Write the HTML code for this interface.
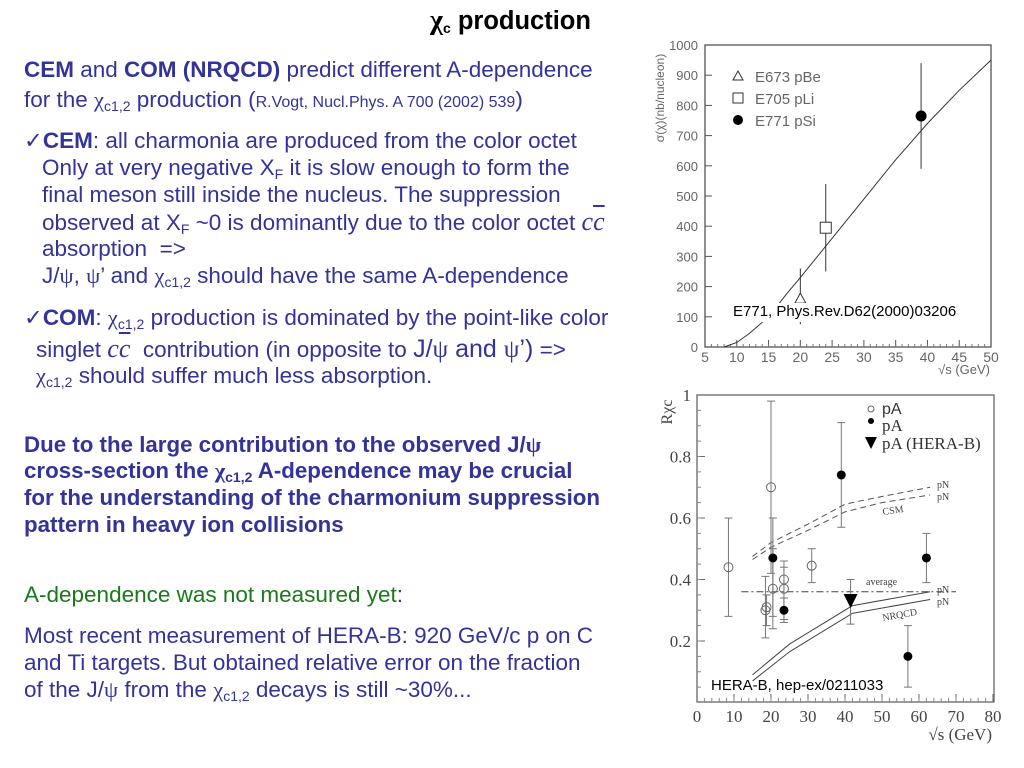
<!DOCTYPE html>
<html><head><meta charset="utf-8">
<style>
html,body{margin:0;padding:0;background:#fff;}
#page{position:relative;width:1024px;height:768px;overflow:hidden;background:#fff;font-family:"Liberation Sans",Arial,sans-serif;}
.ln{position:absolute;white-space:nowrap;font-size:22.5px;line-height:24px;color:#333399;}
.ln.b{font-size:22.3px;}
.g{color:#1a7a1a;}
.b{font-weight:bold;}
sub{font-size:14px;vertical-align:-4px;line-height:0;}
.gr{font-family:"Liberation Serif",serif;}
.cc{font-family:"Liberation Serif",serif;font-style:italic;font-size:26px;}
svg{position:absolute;left:0;top:0;}
</style></head><body>
<div id="page">
<div class="ln b" style="left:430px;top:9px;font-size:25.5px;color:#000;"><span class="gr" style="font-size:28px">χ</span><sub>c</sub> production</div>

<div class="ln" style="left:24px;top:58px;"><b>CEM</b> and <b>COM (NRQCD)</b> predict different A-dependence</div>
<div class="ln" style="left:24px;top:88px;">for the <span class="gr">χ</span><sub>c1,2</sub> production (<span style="font-size:16px">R.Vogt, Nucl.Phys. A 700 (2002) 539</span>)</div>

<div class="ln" style="left:24px;top:129px;">✓<b>CEM</b>: all charmonia are produced from the color octet</div>
<div class="ln" style="left:42px;top:156px;">Only at very negative X<sub>F</sub> it is slow enough to form the</div>
<div class="ln" style="left:42px;top:183px;">final meson still inside the nucleus. The suppression</div>
<div class="ln" style="left:42px;top:210px;">observed at X<sub>F</sub> ~0 is dominantly due to the color octet <span class="cc">c<span style="text-decoration:overline">c</span></span></div>
<div class="ln" style="left:42px;top:237px;">absorption&nbsp; =&gt;</div>
<div class="ln" style="left:42px;top:264px;">J/<span class="gr">ψ</span>, <span class="gr">ψ</span>’ and <span class="gr">χ</span><sub>c1,2</sub> should have the same A-dependence</div>

<div class="ln" style="left:24px;top:306px;">✓<b>COM</b>: <span class="gr">χ</span><sub>c1,2</sub> production is dominated by the point-like color</div>
<div class="ln" style="left:36px;top:337px;">singlet <span class="cc">c<span style="text-decoration:overline">c</span></span>&nbsp; contribution (in opposite to <span style="font-size:25px">J/<span class="gr">ψ</span> and <span class="gr">ψ</span>’)</span> =&gt;</div>
<div class="ln" style="left:36px;top:364px;"><span class="gr">χ</span><sub>c1,2</sub> should suffer much less absorption.</div>

<div class="ln b" style="left:24px;top:433px;">Due to the large contribution to the observed J/<span class="gr">ψ</span></div>
<div class="ln b" style="left:24px;top:459px;">cross-section the <span class="gr">χ</span><sub>c1,2</sub> A-dependence may be crucial</div>
<div class="ln b" style="left:24px;top:486px;">for the understanding of the charmonium suppression</div>
<div class="ln b" style="left:24px;top:513px;">pattern in heavy ion collisions</div>

<div class="ln g" style="left:24px;top:583px;">A-dependence was not measured yet<span style="color:#333399">:</span></div>
<div class="ln" style="left:24px;top:624px;">Most recent measurement of HERA-B: 920 GeV/c p on C</div>
<div class="ln" style="left:24px;top:651px;">and Ti targets. But obtained relative error on the fraction</div>
<div class="ln" style="left:24px;top:678px;">of the J/<span class="gr">ψ</span> from the <span class="gr">χ</span><sub>c1,2</sub> decays is still ~30%...</div>

<svg id="charts" width="1024" height="768"></svg>
</div>
<script>
// ---- Chart 1 data (E771) ----
const c1XTicks = [5,10,15,20,25,30,35,40,45,50];
const c1YTicks = [0,100,200,300,400,500,600,700,800,900,1000];
const c1CurveX = [8,10,12,15,18,20,25,30,35,40,45,50];
const c1CurveY = [0,15,45,100,180,230,360,490,620,740,850,950];
const c1PtX = [20,24,39];
const c1PtY = [160,395,765];
const c1PtLo = [75,250,590];
const c1PtHi = [260,540,940];
const c1PtShape = ['tri','sq','dot'];
const c1Legend = ['E673 pBe','E705 pLi','E771 pSi'];
// ---- Chart 2 data (HERA-B) ----
const c2XTicks = [0,10,20,30,40,50,60,70,80];
const c2YTicks = [0.2,0.4,0.6,0.8,1];
const c2OpenX = [8.5,18.5,18.8,20,20.5,23.5,23.5,31];
const c2OpenY = [0.44,0.30,0.31,0.70,0.37,0.40,0.37,0.445];
const c2OpenLo = [0.28,0.21,0.25,0.42,0.24,0.27,0.26,0.39];
const c2OpenHi = [0.60,0.41,0.35,0.98,0.50,0.46,0.44,0.50];
const c2FillX = [20.5,23.5,39,57,62];
const c2FillY = [0.47,0.30,0.74,0.15,0.47];
const c2FillLo = [0.28,0.27,0.57,0.05,0.39];
const c2FillHi = [0.60,0.34,0.91,0.25,0.55];
const c2TriX = [41.5];
const c2TriY = [0.33];
const c2TriLo = [0.255];
const c2TriHi = [0.40];
const csmX = [15,20,30,40,50,63];
const csmUpper = [0.475,0.52,0.58,0.645,0.67,0.70];
const csmLower = [0.465,0.505,0.56,0.62,0.65,0.675];
const nrX = [15,25,42,63];
const nrUpper = [0.09,0.19,0.315,0.36];
const nrLower = [0.07,0.165,0.29,0.335];
const avgX = [12,70];
const avgY = [0.36,0.36];

const NS='http://www.w3.org/2000/svg';
const svg=document.getElementById('charts');
function mk(tag,attrs,parent){const e=document.createElementNS(NS,tag);for(const k in attrs)e.setAttribute(k,attrs[k]);(parent||svg).appendChild(e);return e;}
function txt(s,attrs,parent){const e=mk('text',attrs,parent);e.textContent=s;return e;}

// Chart 1 axes
const x1=v=>705+(v-5)*(991-705)/45;
const y1=v=>347-v*(347-45)/1000;
const g1=mk('g',{});


const f1=mk('rect',{x:705,y:45,width:286,height:302,fill:'none',stroke:'#555','stroke-width':1.3},g1);


c1XTicks.forEach(t=>{
  mk('line',{x1:x1(t),x2:x1(t),y1:347,y2:340,stroke:'#555'},g1);
  const l=txt(String(t),{x:x1(t),y:362,'font-size':14,'text-anchor':'middle',fill:'#666','font-family':'Liberation Sans'},g1);
  
  
});
for(let v=6;v<50;v++){mk('line',{x1:x1(v),x2:x1(v),y1:347,y2:344,stroke:'#777'},g1);}
c1YTicks.forEach(t=>{
  mk('line',{x1:705,x2:712,y1:y1(t),y2:y1(t),stroke:'#555'},g1);
  const l=txt(String(t),{x:698,y:y1(t)+5,'font-size':13,'text-anchor':'end',fill:'#666','font-family':'Liberation Sans'},g1);
  
  
});
const xt1=txt('√s (GeV)',{x:990,y:374,'font-size':13,'text-anchor':'end',fill:'#666','font-family':'Liberation Sans'},g1);


const yt1=txt('σ(χ)(nb/nucleon)',{x:0,y:0,'font-size':12,'text-anchor':'middle',fill:'#666','font-family':'Liberation Sans',transform:'translate(664,98) rotate(-90)'},g1);


const cv=mk('polyline',{points:c1CurveX.map((v,i)=>x1(v)+','+y1(c1CurveY[i])).join(' '),fill:'none',stroke:'#333','stroke-width':1},g1);


function marker(shape,cx,cy,r,parent){
  if(shape==='tri') return mk('polygon',{points:`${cx},${cy-r} ${cx-r},${cy+r*0.8} ${cx+r},${cy+r*0.8}`,fill:'#fff',stroke:'#333','stroke-width':1},parent);
  if(shape==='sq') return mk('rect',{x:cx-r,y:cy-r,width:2*r,height:2*r,fill:'#fff',stroke:'#333','stroke-width':1},parent);
  if(shape==='dot') return mk('circle',{cx,cy,r,fill:'#000'},parent);
  if(shape==='open') return mk('circle',{cx,cy,r,fill:'none',stroke:'#666','stroke-width':1},parent);
  if(shape==='dtri') return mk('polygon',{points:`${cx-r},${cy-r} ${cx+r},${cy-r} ${cx},${cy+r}`,fill:'#000'},parent);
}
c1PtX.forEach((v,i)=>{
  const e=mk('line',{x1:x1(v),x2:x1(v),y1:y1(c1PtLo[i]),y2:y1(c1PtHi[i]),stroke:'#333','stroke-width':1},g1);
  
  
  const m=marker(c1PtShape[i],x1(v),y1(c1PtY[i]),5.5,g1);
  
  
});
c1Legend.forEach((s,i)=>{
  const y=76+i*22;
  marker(c1PtShape[i],738,y,5,g1);
  const l=txt(s,{x:755,y:y+6,'font-size':15,fill:'#666','font-family':'Liberation Sans'},g1);
  
  
});
mk('rect',{x:731,y:303,width:256,height:19,fill:'#fff'},g1);
const ref1=txt('E771, Phys.Rev.D62(2000)03206',{x:733,y:316,'font-size':15,fill:'#000','font-family':'Liberation Sans'},g1);



// Chart 2 axes
const x2=v=>697+v*(993-697)/80;
const y2=v=>641-(v-0.2)*(641-395)/0.8;
const g2=mk('g',{});


const f2=mk('rect',{x:697,y:395,width:297,height:307,fill:'none',stroke:'#666','stroke-width':1.3},g2);


c2XTicks.forEach(t=>{
  mk('line',{x1:x2(t),x2:x2(t),y1:702,y2:694,stroke:'#666'},g2);
  const l=txt(String(t),{x:x2(t),y:722,'font-size':17,'text-anchor':'middle',fill:'#444','font-family':'Liberation Serif'},g2);
  
  
});
for(let v=2;v<80;v+=2){mk('line',{x1:x2(v),x2:x2(v),y1:702,y2:698,stroke:'#888'},g2);}
c2YTicks.forEach(t=>{
  mk('line',{x1:697,x2:705,y1:y2(t),y2:y2(t),stroke:'#666'},g2);
  const l=txt(t===1?'1':t.toFixed(1),{x:691,y:y2(t)+6,'font-size':17,'text-anchor':'end',fill:'#444','font-family':'Liberation Serif'},g2);
  
  
});
for(let v=0.05;v<1;v+=0.05){mk('line',{x1:697,x2:701,y1:y2(v),y2:y2(v),stroke:'#888'},g2);}
const xt2=txt('√s (GeV)',{x:992,y:740,'font-size':17,'text-anchor':'end',fill:'#444','font-family':'Liberation Serif'},g2);


const yt2=txt('Rχc',{x:0,y:0,'font-size':16,'text-anchor':'middle',fill:'#444','font-family':'Liberation Serif',transform:'translate(672,412) rotate(-90)'},g2);


function pl(xs,ys,attrs,name){const e=mk('polyline',Object.assign({points:xs.map((v,i)=>x2(v)+','+y2(ys[i])).join(' '),fill:'none'},attrs),g2);}
pl(csmX,csmUpper,{stroke:'#555','stroke-dasharray':'6,4','stroke-width':1},'csm-upper-curve');
pl(csmX,csmLower,{stroke:'#555','stroke-dasharray':'6,4','stroke-width':1},'csm-lower-curve');
pl(nrX,nrUpper,{stroke:'#444','stroke-width':1},'nrqcd-upper-curve');
pl(nrX,nrLower,{stroke:'#444','stroke-width':1},'nrqcd-lower-curve');
pl(avgX,avgY,{stroke:'#444','stroke-dasharray':'7,3,2,3','stroke-width':1},'average-line');
function eb(xs,ys,lo,hi,shape,name){
  xs.forEach((v,i)=>{
    const cx=x2(v);
    const e=mk('path',{d:`M${cx},${y2(lo[i])}V${y2(hi[i])}M${cx-4},${y2(lo[i])}h8M${cx-4},${y2(hi[i])}h8`,stroke:'#777','stroke-width':1,fill:'none'},g2);
    
    
    const m=marker(shape,cx,y2(ys[i]),shape==='dtri'?7:4.5,g2);
    
    
  });
}
eb(c2OpenX,c2OpenY,c2OpenLo,c2OpenHi,'open','open-pa');
eb(c2FillX,c2FillY,c2FillLo,c2FillHi,'dot','filled-pa');
eb(c2TriX,c2TriY,c2TriLo,c2TriHi,'dtri','herab');
marker('open',871,409,3,g2);
marker('dot',871,421,3,g2);
marker('dtri',871,443,6,g2);
[['pA',882,414,'Liberation Sans',16],['pA',882,431,'Liberation Serif',17],['pA (HERA-B)',882,449,'Liberation Serif',17]].forEach(a=>{
  const l=txt(a[0],{x:a[1],y:a[2],'font-size':a[4],fill:'#333','font-family':a[3]},g2);
  
  
});
[['pN',937,488],['pN',937,500],['pN',937,593],['pN',937,605]].forEach(a=>{
  const l=txt(a[0],{x:a[1],y:a[2],'font-size':10,fill:'#444','font-family':'Liberation Serif'},g2);
  
  
});
const csm=txt('CSM',{x:0,y:0,'font-size':10,fill:'#444','font-family':'Liberation Serif',transform:'translate(883,515) rotate(-8)'},g2);


const nr=txt('NRQCD',{x:0,y:0,'font-size':10,fill:'#444','font-family':'Liberation Serif',transform:'translate(883,621) rotate(-10)'},g2);


const av=txt('average',{x:866,y:585,'font-size':10,fill:'#444','font-family':'Liberation Serif'},g2);


const ref2=txt('HERA-B, hep-ex/0211033',{x:711,y:690,'font-size':15,fill:'#000','font-family':'Liberation Sans'},g2);


</script>
</body></html>
